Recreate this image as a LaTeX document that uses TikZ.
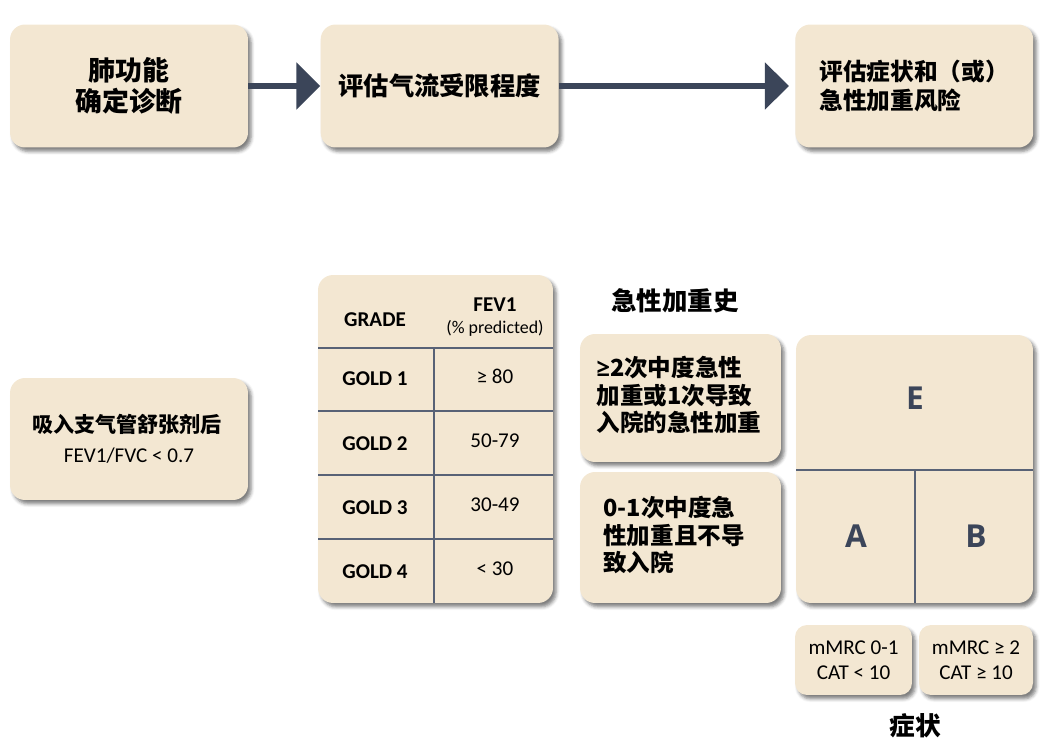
\documentclass[tikz,border=0pt]{standalone}
\usepackage{fontspec}
\setmainfont{Carlito}
\newfontfamily\cjk{Noto Sans CJK SC}
\newfontfamily\opensans{Open Sans}
\usepackage{tikz}
\usetikzlibrary{arrows.meta, positioning, shadows.blur}
\definecolor{boxfill}{RGB}{243,231,210}
\definecolor{slate}{RGB}{59,69,89}
\definecolor{gridline}{RGB}{88,98,118}
\tikzset{
  stepbox/.style={rectangle, fill=boxfill, rounded corners=0.3cm,
    minimum width=4.76cm, minimum height=2.46cm, align=center,
    blur shadow={shadow xshift=1.8pt, shadow yshift=-2.2pt, shadow opacity=50}},
  smallbox/.style={rectangle, fill=boxfill, rounded corners=0.24cm,
    minimum height=1.4cm, align=center, font=\fontsize{12}{14.5}\selectfont,
    blur shadow={shadow xshift=1.8pt, shadow yshift=-2.2pt, shadow opacity=50}},
  cjkbold/.style 2 args={font={\cjk\bfseries\fontsize{#1}{#2}\selectfont}},
  celltext/.style={font=\fontsize{12}{14}\selectfont},
  gradetext/.style={font=\bfseries\fontsize{12}{14}\selectfont},
  groupletter/.style={font=\opensans\bfseries\fontsize{18}{20}\selectfont, text=slate},
  flowarrow/.style={-{Triangle[length=0.48cm, width=0.92cm]}, line width=0.12cm, color=slate},
  gridrule/.style={line width=0.9pt, color=gridline}
}
\begin{document}
\begin{tikzpicture}[x=0.02cm, y=-0.02cm]
  \useasboundingbox (0,0) rectangle (1048,750);
  % Top row
  \node[stepbox, cjkbold={15.3}{17.6}] (diag) at (129,86) {肺功能\\确定诊断};
  \node[stepbox, cjkbold={14.4}{16}, right=1.44cm of diag] (airflow) {评估气流受限程度};
  \node[stepbox, right=4.72cm of airflow] (risk) {};
  \node[cjkbold={13.5}{16}, align=left] (risktxt) at (risk.center) {评估症状和（或）\\急性加重风险};
  % Arrows
  \draw[flowarrow] (diag.east) -- (airflow.west);
  \draw[flowarrow, shorten >=0.12cm] (airflow.east) -- (risk.west);
  % Spirometry
  \node[stepbox, minimum height=2.44cm] (spiro) at (129,439) {};
  \node[cjkbold={12}{14}] (spirotxt) at (127,424) {吸入支气管舒张剂后};
  \node[celltext] (ratio) at (129,456) {FEV1/FVC < 0.7};
  % GOLD table
  \node[stepbox, minimum width=4.7cm, minimum height=6.56cm] (tbl) at (435.5,439) {};
  \draw[gridrule] (318,348) -- (553,348);
  \draw[gridrule] (318,411) -- (553,411);
  \draw[gridrule] (318,475) -- (553,475);
  \draw[gridrule] (318,539) -- (553,539);
  \draw[gridrule] (434,348) -- (434,603);
  \node[gradetext] (grade) at (375,320) {GRADE};
  \node[gradetext] (fev) at (495,305) {FEV1};
  \node[font=\fontsize{10.2}{12}\selectfont] (pred) at (495,328) {(\% predicted)};
  \foreach \g/\v [count=\i from 0] in {1/≥ 80, 2/50-79, 3/30-49, 4/< 30} {
    \node[gradetext] (gold\g) at (375,379+64.3*\i) {GOLD \g};
    \node[celltext] (val\g) at (495,376+64.3*\i) {\v};
  }
  % Exacerbation history
  \node[cjkbold={14.5}{16}] (hist) at (675,301) {急性加重史};
  \node[stepbox, minimum width=4.02cm, minimum height=2.56cm] (high) at (680.5,398) {};
  \node[cjkbold={13.4}{15.6}, align=left] (hightxt) at (679,395) {{\opensans ≥}2次中度急性\\加重或1次导致\\入院的急性加重};
  \node[stepbox, minimum width=4.02cm, minimum height=2.62cm] (low) at (680.5,537.5) {};
  \node[cjkbold={13.4}{15.6}, align=left] (lowtxt) at (674,535) {0-1次中度急\\性加重且不导\\致入院};
  % ABE groups
  \node[stepbox, minimum width=4.74cm, minimum height=5.36cm] (grp) at (914.5,469) {};
  \draw[gridrule] (796,470) -- (1033,470);
  \draw[gridrule] (915,470) -- (915,603);
  \node[groupletter] (ge) at (915,398) {E};
  \node[groupletter] (ga) at (856,536) {A};
  \node[groupletter] (gb) at (976,536) {B};
  % Symptoms
  \node[smallbox, minimum width=2.34cm] (mild) at (853.5,660) {mMRC 0-1\\CAT < 10};
  \node[smallbox, minimum width=2.28cm] (severe) at (976,660) {mMRC ≥ 2\\CAT ≥ 10};
  \node[cjkbold={14.6}{16}] (symp) at (915,726) {症状};
\end{tikzpicture}
\end{document}
